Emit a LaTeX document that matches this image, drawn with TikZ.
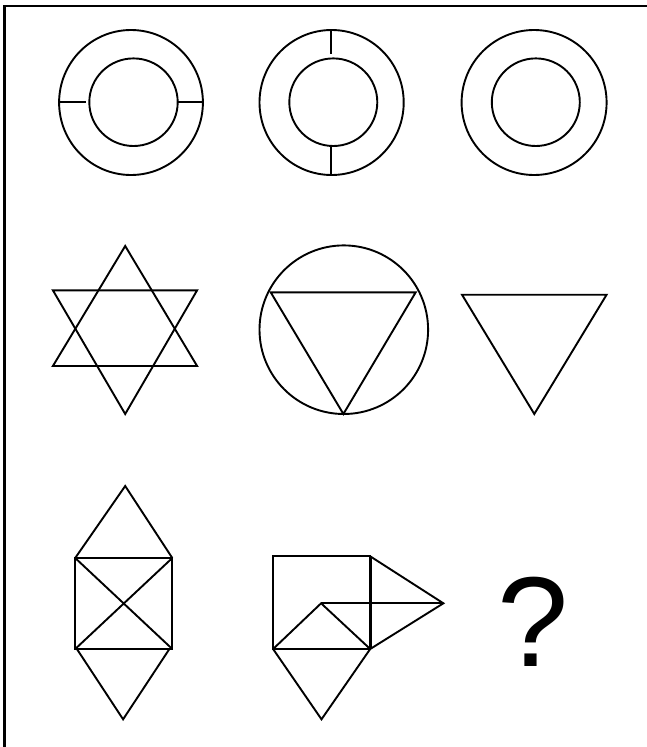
\documentclass[tikz,border=0pt]{standalone}
\usepackage{fontspec}
\setmainfont{Liberation Sans}
\begin{document}
\begin{tikzpicture}[x=1pt,y=-1pt,
  fig/.style={line width=1.9pt, line join=miter},
  frameline/.style={line width=2.3pt}]
\useasboundingbox (0,0) rectangle (647,747);
% frame (only top and left visible)
\draw[frameline] (4.5,747) -- (4.5,6) -- (647,6);
% Row 1
\draw[fig] (131,102.5) ellipse [x radius=71.9, y radius=72.5];
\draw[fig] (133.5,102.2) ellipse [x radius=44.2, y radius=43.8];
\draw[fig] (59.1,102.3) -- (85.5,102.3);
\draw[fig] (177.7,102.3) -- (202.9,102.3);
\draw[fig] (331.6,102.5) ellipse [x radius=72.1, y radius=72.5];
\draw[fig] (333.3,102.2) ellipse [x radius=44, y radius=43.8];
\draw[fig] (331.4,30) -- (331.4,54.3);
\draw[fig] (331.4,146) -- (331.4,175);
\draw[fig] (534.1,102.5) ellipse [x radius=72.5, y radius=72.5];
\draw[fig] (535.8,102.2) ellipse [x radius=44, y radius=43.8];
% Row 2
\draw[fig] (125.2,246) -- (197.1,366) -- (52.9,366) -- cycle;
\draw[fig] (52.9,290.3) -- (197.1,290.3) -- (125.2,414) -- cycle;
\draw[fig] (343.8,329.7) ellipse [x radius=84.3, y radius=84.3];
\draw[fig] (270.7,292.3) -- (415.7,292.3) -- (343.4,414) -- cycle;
\draw[fig] (462,294.7) -- (606.6,294.7) -- (534.3,414) -- cycle;
% Row 3, figure 1
\draw[fig] (75.2,558) rectangle (172.3,649);
\draw[fig] (75.2,558) -- (125.2,486) -- (172.3,558);
\draw[fig] (75.2,558) -- (172.3,649);
\draw[fig] (172.3,558) -- (75.2,649);
\draw[fig] (76.9,649) -- (123.1,719.3) -- (169.4,649);
% Row 3, figure 2
\draw[fig] (273.1,556.3) rectangle (370.2,649);
\draw[line width=2.8pt] (370.2,556.3) -- (370.2,649);
\draw[fig] (370.2,556.3) -- (443.4,603.3) -- (370.2,649);
\draw[fig] (321.1,603.3) -- (443.4,603.3);
\draw[fig] (273.1,649) -- (321.1,603.3) -- (370.2,649);
\draw[fig] (273.1,649) -- (321.5,719.3) -- (370.2,649);
% question mark
\node[inner sep=0pt, font=\fontsize{128}{128}\selectfont] (q) at (533,622) {?};
\end{tikzpicture}
\end{document}
